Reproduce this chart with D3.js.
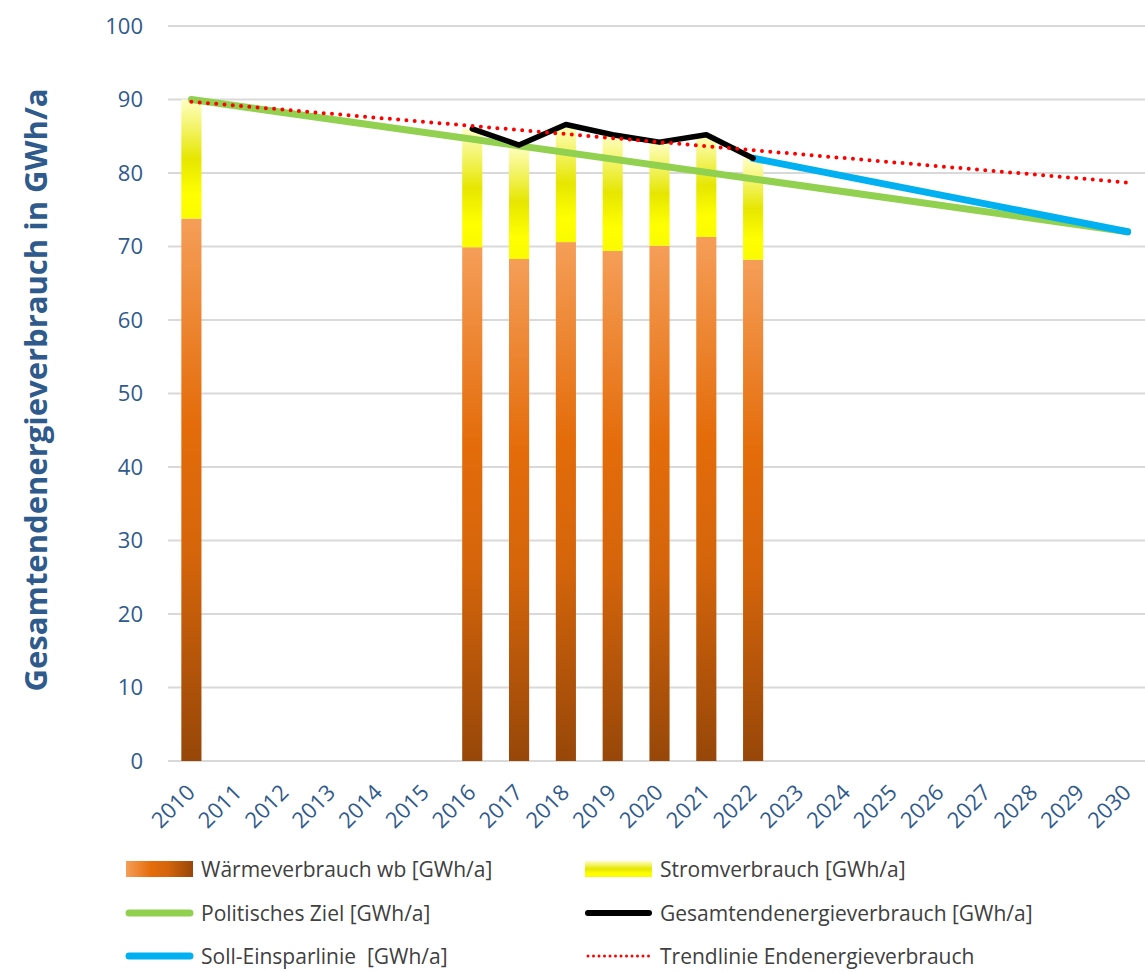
<!DOCTYPE html>
<head>
  <meta charset="utf-8">
  <script src="https://d3js.org/d3.v7.min.js"></script>
  <style>
    body { margin: 0; background: #fff; font-family: "Open Sans", sans-serif; }
    .grid line { stroke: #d9d9d9; stroke-width: 2px; }
    .tick-label { fill: #2f5a8c; font-size: 22px; }
    .legend text { fill: #404040; font-size: 21px; white-space: pre; }
  </style>
</head>
<body>
  <script>
    var years = d3.range(2010, 2031).map(String);
    var yTicks = [0, 10, 20, 30, 40, 50, 60, 70, 80, 90, 100];

    // bars (stacked)
    var barYears = ["2010", "2016", "2017", "2018", "2019", "2020", "2021", "2022"];
    var waerme = [73.8, 69.9, 68.3, 70.6, 69.4, 70.1, 71.3, 68.2];
    var strom = [16.2, 16.1, 15.5, 16.0, 15.8, 14.1, 13.9, 13.8];

    // lines
    var gesamtYears = ["2016", "2017", "2018", "2019", "2020", "2021", "2022"];
    var gesamt = [86.0, 83.8, 86.6, 85.2, 84.2, 85.2, 82.0];
    var zielYears = ["2010", "2030"];
    var ziel = [90, 72];
    var sollYears = ["2022", "2030"];
    var soll = [82.0, 72.0];
    var trendYears = ["2010", "2030"];
    var trend = [89.7, 78.7];

    var width = 1145, height = 972;

    var svg = d3.select("body").append("svg")
        .attr("width", width)
        .attr("height", height);

    var x = d3.scaleBand()
        .domain(years)
        .range([168, 1151])
        .paddingInner(0.57)
        .paddingOuter(0.285);

    var y = d3.scaleLinear()
        .domain([0, 100])
        .range([761, 26]);

    var cx = function(yr) { return x(yr) + x.bandwidth() / 2; };

    var defs = svg.append("defs");

    function gradient(id, stops, horizontal) {
      var g = defs.append("linearGradient").attr("id", id)
          .attr("x1", 0).attr("y1", 0)
          .attr("x2", horizontal ? 1 : 0).attr("y2", horizontal ? 0 : 1);
      stops.forEach(function(s) {
        g.append("stop").attr("offset", s[0]).attr("stop-color", s[1]);
      });
    }
    var orangeStops = [[0, "#f59e58"], [0.38, "#e46c0a"], [0.62, "#d5650b"], [1, "#974709"]];
    var yellowStops = [[0, "#ffffc4"], [0.5, "#e6e600"], [0.8, "#ffff00"], [1, "#fbfb00"]];
    gradient("orange", orangeStops, false);
    gradient("orangeH", orangeStops, true);
    gradient("yellow", yellowStops, false);

    // gridlines
    svg.append("g").attr("class", "grid")
      .selectAll("line")
      .data(yTicks)
      .enter().append("line")
        .attr("x1", 168)
        .attr("x2", width)
        .attr("y1", function(d) { return y(d); })
        .attr("y2", function(d) { return y(d); });

    // y tick labels
    svg.append("g")
      .selectAll("text")
      .data(yTicks)
      .enter().append("text")
        .attr("class", "tick-label")
        .attr("x", 143)
        .attr("y", function(d) { return y(d); })
        .attr("dy", "0.36em")
        .attr("text-anchor", "end")
        .text(function(d) { return d; });

    // x tick labels
    svg.append("g")
      .selectAll("text")
      .data(years)
      .enter().append("text")
        .attr("class", "tick-label")
        .attr("transform", function(d) {
          return "translate(" + (cx(d) - 6) + "," + 783 + ") rotate(-45)";
        })
        .attr("text-anchor", "end")
        .attr("dy", "0.7em")
        .text(function(d) { return d; });

    // axis title
    svg.append("text")
      .attr("transform", "translate(47,390) rotate(-90)")
      .attr("text-anchor", "middle")
      .attr("fill", "#2f5a8c")
      .attr("font-weight", "bold")
      .attr("font-size", "31px")
      .text("Gesamtendenergieverbrauch in GWh/a");

    // bars
    var bars = svg.append("g");
    bars.selectAll("rect.w")
      .data(barYears)
      .enter().append("rect")
        .attr("class", "w")
        .attr("x", function(d) { return x(d); })
        .attr("width", x.bandwidth())
        .attr("y", function(d, i) { return y(waerme[i]); })
        .attr("height", function(d, i) { return y(0) - y(waerme[i]); })
        .attr("fill", "url(#orange)");
    bars.selectAll("rect.s")
      .data(barYears)
      .enter().append("rect")
        .attr("class", "s")
        .attr("x", function(d) { return x(d); })
        .attr("width", x.bandwidth())
        .attr("y", function(d, i) { return y(waerme[i] + strom[i]); })
        .attr("height", function(d, i) { return y(waerme[i]) - y(waerme[i] + strom[i]); })
        .attr("fill", "url(#yellow)");

    var line = d3.line()
        .x(function(d) { return cx(d[0]); })
        .y(function(d) { return y(d[1]); });

    function drawLine(ys, vals, color, w, dash) {
      var p = svg.append("path")
        .datum(d3.zip(ys, vals))
        .attr("fill", "none")
        .attr("stroke", color)
        .attr("stroke-width", w)
        .attr("stroke-linecap", "round")
        .attr("stroke-linejoin", "round")
        .attr("d", line);
      if (dash) p.attr("stroke-dasharray", dash);
    }

    drawLine(zielYears, ziel, "#92d050", 7);
    drawLine(sollYears, soll, "#00b0f0", 7);
    drawLine(gesamtYears, gesamt, "#000000", 5.5);
    drawLine(trendYears, trend, "#ff0000", 4, "0 8.3");

    // legend
    var legend = svg.append("g").attr("class", "legend");
    var items = [
      {name: "Wärmeverbrauch wb [GWh/a]", type: "rect", fill: "url(#orangeH)", col: 0, row: 0},
      {name: "Stromverbrauch [GWh/a]", type: "rect", fill: "url(#yellow)", col: 1, row: 0},
      {name: "Politisches Ziel [GWh/a]", type: "line", color: "#92d050", w: 7, col: 0, row: 1},
      {name: "Gesamtendenergieverbrauch [GWh/a]", type: "line", color: "#000000", w: 6, col: 1, row: 1},
      {name: "Soll-Einsparlinie  [GWh/a]", type: "line", color: "#00b0f0", w: 7, col: 0, row: 2},
      {name: "Trendlinie Endenergieverbrauch", type: "line", color: "#ff0000", w: 3, dash: "0 5.5", col: 1, row: 2}
    ];
    var colX = [126, 585], rowY = [869, 913, 956];

    var li = legend.selectAll("g")
      .data(items)
      .enter().append("g")
        .attr("transform", function(d) {
          return "translate(" + colX[d.col] + "," + rowY[d.row] + ")";
        });

    li.filter(function(d) { return d.type == "rect"; })
      .append("rect")
        .attr("x", 0).attr("y", -8)
        .attr("width", 67).attr("height", 16)
        .attr("fill", function(d) { return d.fill; });

    li.filter(function(d) { return d.type == "line"; })
      .append("line")
        .attr("x1", 3).attr("x2", 64)
        .attr("stroke", function(d) { return d.color; })
        .attr("stroke-width", function(d) { return d.w; })
        .attr("stroke-linecap", "round")
        .attr("stroke-dasharray", function(d) { return d.dash || null; });

    li.append("text")
      .attr("x", 75)
      .attr("dy", "0.36em")
      .text(function(d) { return d.name; });
  </script>
</body>
